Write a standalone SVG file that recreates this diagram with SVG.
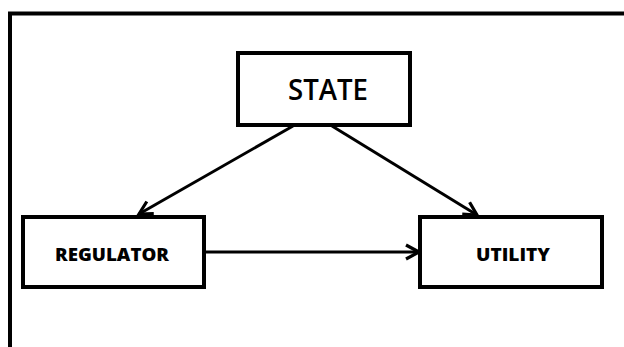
<svg xmlns="http://www.w3.org/2000/svg" width="624" height="347" viewBox="0 0 624 347">
  <style>
    .frame { fill: none; stroke: #000; stroke-width: 4; }
    .box { fill: #fff; stroke: #000; stroke-width: 4; }
    .edge { fill: none; stroke: #000; stroke-width: 3; }
    .big { font-family: "Open Sans", "Liberation Sans", sans-serif; font-size: 28px; font-weight: 600; fill: #000; }
    .small { font-family: "Open Sans", "Liberation Sans", sans-serif; font-size: 18px; font-weight: 800; fill: #000; }
  </style>
  <defs>
    <marker id="arrow" viewBox="0 0 18 18" refX="15" refY="9" markerWidth="18" markerHeight="18" markerUnits="userSpaceOnUse" orient="auto">
      <polyline points="2,2 15,9 2,16" fill="none" stroke="#000" stroke-width="3.2" stroke-linejoin="miter"/>
    </marker>
  </defs>

  <!-- outer frame: top and left edges -->
  <path class="frame" d="M10,347 V13.5 H624"/>

  <g id="connectors">
    <line class="edge" x1="293" y1="126" x2="139" y2="214" marker-end="url(#arrow)"/>
    <line class="edge" x1="332" y1="126" x2="477" y2="215" marker-end="url(#arrow)"/>
    <line class="edge" x1="206" y1="252" x2="419" y2="252" marker-end="url(#arrow)"/>
  </g>

  <g id="state">
    <rect class="box" x="238" y="53" width="172" height="72"/>
    <text class="big" x="328" y="100" text-anchor="middle" textLength="80" lengthAdjust="spacingAndGlyphs">STATE</text>
  </g>

  <g id="regulator">
    <rect class="box" x="23" y="217" width="181" height="70"/>
    <text class="small" x="112" y="261" text-anchor="middle" textLength="114" lengthAdjust="spacingAndGlyphs">REGULATOR</text>
  </g>

  <g id="utility">
    <rect class="box" x="420" y="217" width="182" height="70"/>
    <text class="small" x="513" y="261" text-anchor="middle" textLength="74" lengthAdjust="spacingAndGlyphs">UTILITY</text>
  </g>
</svg>
